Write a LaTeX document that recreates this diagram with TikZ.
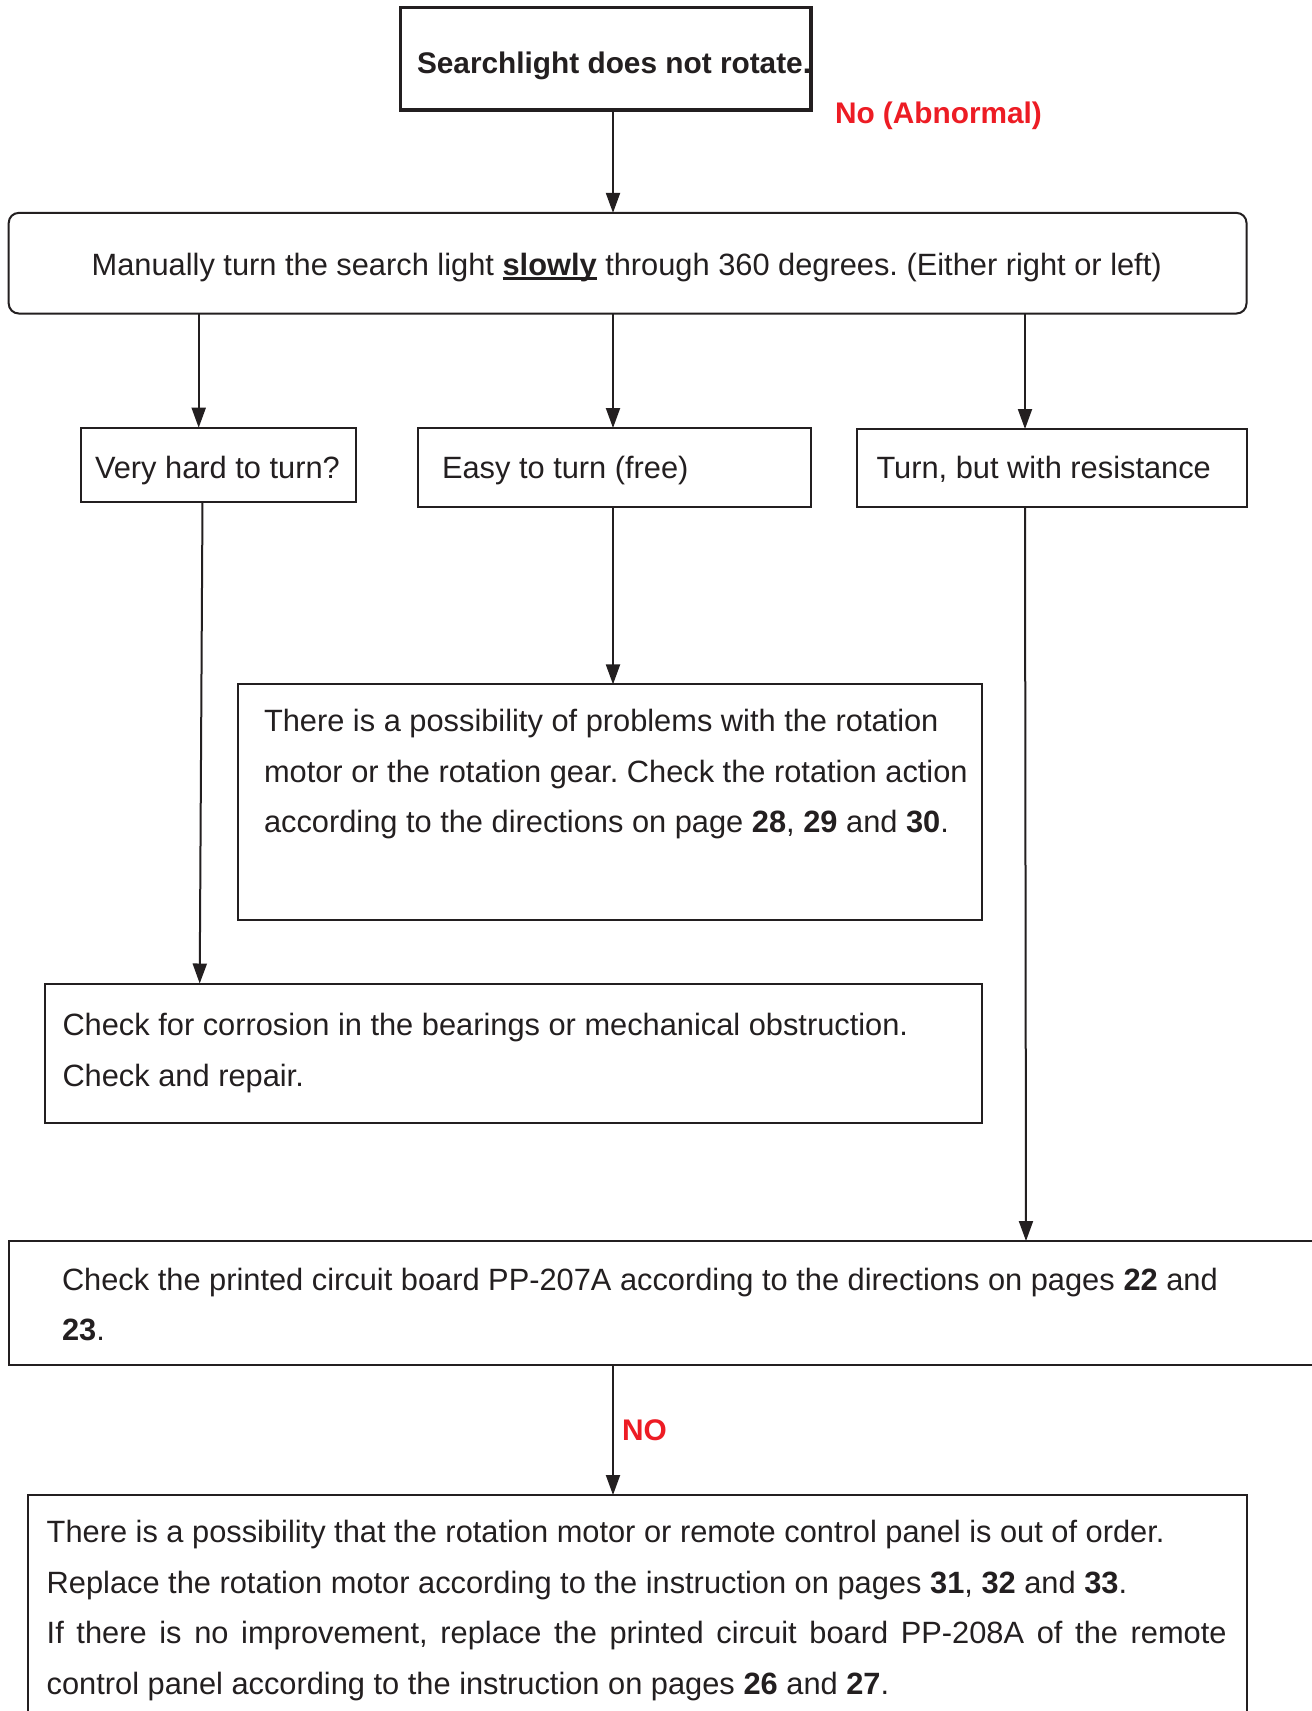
\documentclass[tikz,border=0pt]{standalone}
\usepackage{fontspec}
\setmainfont{Liberation Sans}
\usetikzlibrary{arrows.meta}
\definecolor{ink}{HTML}{231F20}
\definecolor{redlab}{HTML}{ED1C24}
\frenchspacing
\newcommand\ulbold[1]{\setbox0\hbox{\textbf{#1}}\rlap{\rule[-4.5pt]{\wd0}{2.6pt}}\box0\relax}
\begin{document}
\begin{tikzpicture}[x=1pt,y=-1pt,
  box/.style={draw=ink,line width=2pt,rectangle,inner sep=0pt,outer sep=0pt},
  txt/.style={anchor=base west,inner sep=0pt,outer sep=0pt,text=ink,font=\fontsize{30.8}{50}\selectfont\frenchspacing},
  red/.style={anchor=base west,inner sep=0pt,outer sep=0pt,text=redlab,font=\fontsize{29.8}{50}\selectfont\bfseries},
  arr/.style={draw=ink,line width=2pt,-{Triangle[length=20pt,width=14pt]}}]
\useasboundingbox (0,0) rectangle (1312,1711);
\fill[white] (0,0) rectangle (1312,1711);
% boxes
\node[box,line width=3.5pt,minimum width=410.4pt,minimum height=102.4pt] (top) at (605.8,58.8) {};
\node[box,rounded corners=10pt,minimum width=1237.8pt,minimum height=100.6pt] (manual) at (627.6,263.2) {};
\node[box,minimum width=275pt,minimum height=74pt] (b1) at (218.5,464.7) {};
\node[box,minimum width=393pt,minimum height=78.5pt] (b2) at (614.5,467.25) {};
\node[box,minimum width=389.5pt,minimum height=77.5pt] (b3) at (1051.75,467.75) {};
\node[box,minimum width=744.3pt,minimum height=235.6pt] (b4) at (610.15,802.2) {};
\node[box,minimum width=937pt,minimum height=139.5pt] (b5) at (513.5,1053.25) {};
\node[box,minimum width=1321.3pt,minimum height=124pt] (b6) at (669.35,1303) {};
\node[box,minimum width=1218.1pt,minimum height=235pt] (b7) at (637.45,1612.5) {};
% texts
\node[txt,font=\fontsize{29.8}{50}\selectfont\bfseries] (ttop) at (417,73) {Searchlight does not rotate.};
\node[red] (lab1) at (835,123.5) {No (Abnormal)};
\node[txt] (tman) at (91.7,275) {Manually turn the search light \ulbold{slowly} through 360 degrees. (Either right or left)};
\node[txt] (t1) at (95,478) {Very hard to turn?};
\node[txt] (t2) at (442,478) {Easy to turn (free)};
\node[txt] (t3) at (876.5,478) {Turn, but with resistance};
\node[txt] (t4a) at (264,731.7) {There is a possibility of problems with the rotation};
\node[txt] (t4b) at (264,782) {motor or the rotation gear. Check the rotation action};
\node[txt] (t4c) at (264,832.5) {according to the directions on page \textbf{28}, \textbf{29} and \textbf{30}.};
\node[txt] (t5a) at (62.5,1035) {Check for corrosion in the bearings or mechanical obstruction.};
\node[txt] (t5b) at (62.5,1086) {Check and repair.};
\node[txt] (t6a) at (62,1290) {Check the printed circuit board PP-207A according to the directions on pages \textbf{22} and};
\node[txt] (t6b) at (62,1340.5) {\textbf{23}.};
\node[red] (lab2) at (622,1440) {NO};
\node[txt] (t7a) at (46.7,1542.5) {There is a possibility that the rotation motor or remote control panel is out of order.};
\node[txt] (t7b) at (46.7,1593) {Replace the rotation motor according to the instruction on pages \textbf{31}, \textbf{32} and \textbf{33}.};
\node[txt] (t7c) at (46.7,1643.5) {\makebox[1180pt][s]{If there is no improvement, replace the printed circuit board PP-208A of the remote}};
\node[txt] (t7d) at (46.7,1694.5) {control panel according to the instruction on pages \textbf{26} and \textbf{27}.};
% connectors
\draw[arr] (613,0 |- top.south) -- (613,0 |- manual.north);
\draw[arr] (198.7,0 |- manual.south) -- (198.7,0 |- b1.north);
\draw[arr] (613,0 |- manual.south) -- (613,0 |- b2.north);
\draw[arr] (1025,0 |- manual.south) -- (1025,0 |- b3.north);
\draw[arr] (613,0 |- b2.south) -- (613,0 |- b4.north);
\draw[arr] (202.5,0 |- b1.south) -- (199.7,0 |- b5.north);
\draw[arr] (1025,0 |- b3.south) -- (1026,0 |- b6.north);
\draw[arr] (613,0 |- b6.south) -- (613,0 |- b7.north);
\end{tikzpicture}
\end{document}
